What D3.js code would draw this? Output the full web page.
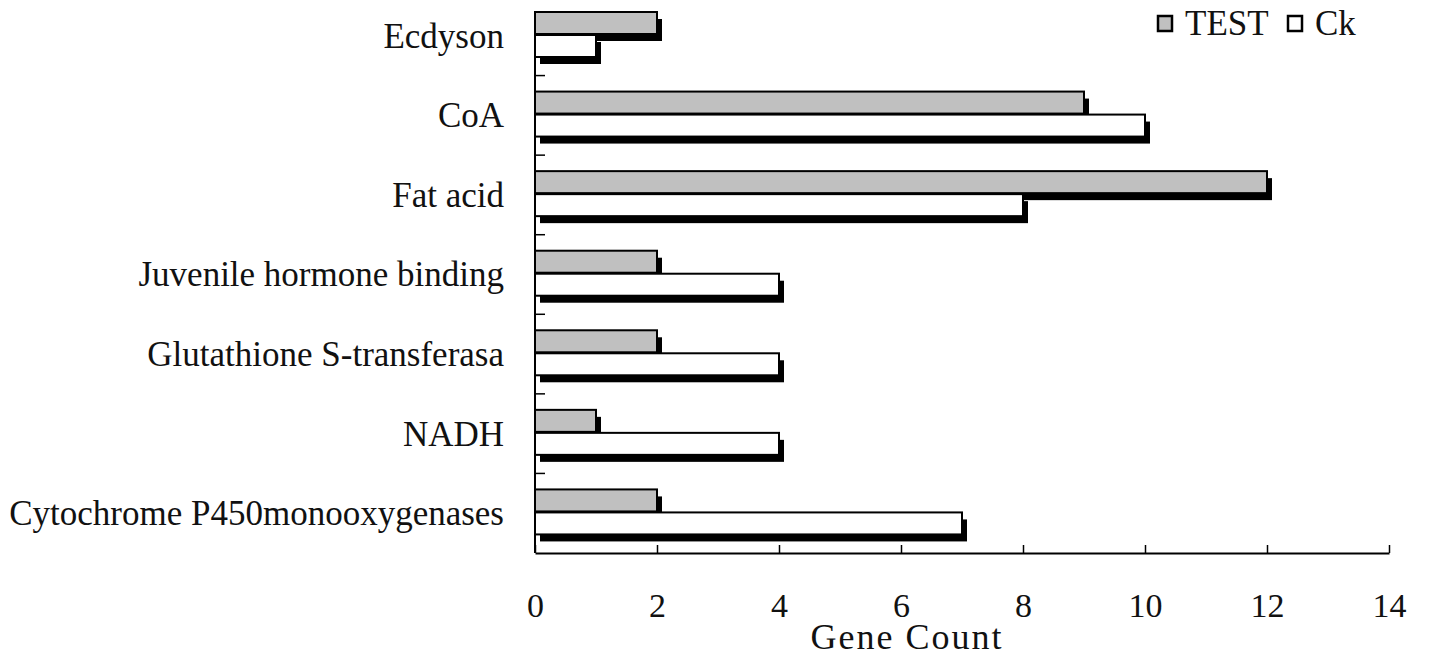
<!DOCTYPE html>
<html>
<head>
<meta charset="utf-8">
<script src="https://cdn.jsdelivr.net/npm/d3@7"></script>
<style>
body { margin: 0; background: #fff; }
text { font-family: "Liberation Serif", "Times New Roman", serif; fill: #111; }
</style>
</head>
<body>
<div id="chart"></div>
<script>
var categories = ["Ecdyson", "CoA", "Fat acid", "Juvenile hormone binding",
	"Glutathione S-transferasa", "NADH", "Cytochrome P450monooxygenases"];
var testValues = [2, 9, 12, 2, 2, 1, 2];
var ckValues = [1, 10, 8, 4, 4, 4, 7];
var seriesNames = ["TEST", "Ck"];
var xTicks = [0, 2, 4, 6, 8, 10, 12, 14];

var width = 1429, height = 653;
var plotLeft = 535, plotRight = 1389, plotTop = -4, plotBottom = 553;

var svg = d3.select("#chart").append("svg")
	.attr("width", width)
	.attr("height", height);

var x = d3.scaleLinear().domain([0, 14]).range([plotLeft, plotRight]);
var y = d3.scaleBand().domain(categories).range([plotTop, plotBottom]);
var bh = 22;

var rows = svg.selectAll(".row")
	.data(categories)
	.enter().append("g")
	.attr("class", "row")
	.attr("transform", function(d) { return "translate(0," + y(d) + ")"; });

// shadows first
rows.append("rect")
	.attr("x", x(0) + 5)
	.attr("y", 16 + 7)
	.attr("width", function(d) { return x(testValues[categories.indexOf(d)]) - x(0); })
	.attr("height", bh)
	.style("fill", "#000");
rows.append("rect")
	.attr("x", x(0) + 5)
	.attr("y", 16 + bh + 1 + 7)
	.attr("width", function(d) { return x(ckValues[categories.indexOf(d)]) - x(0); })
	.attr("height", bh)
	.style("fill", "#000");

rows.append("rect")
	.attr("x", x(0))
	.attr("y", 16)
	.attr("width", function(d) { return x(testValues[categories.indexOf(d)]) - x(0); })
	.attr("height", bh)
	.style("fill", "#c0c0c0")
	.style("stroke", "#000")
	.style("stroke-width", 2);
rows.append("rect")
	.attr("x", x(0))
	.attr("y", 16 + bh + 1)
	.attr("width", function(d) { return x(ckValues[categories.indexOf(d)]) - x(0); })
	.attr("height", bh)
	.style("fill", "#fff")
	.style("stroke", "#000")
	.style("stroke-width", 2);

// category labels
rows.append("text")
	.attr("x", 504)
	.attr("y", y.bandwidth() / 2 + 12)
	.attr("text-anchor", "end")
	.style("font-size", "35px")
	.text(function(d) { return d; });

// y axis line + ticks at band boundaries
svg.append("line")
	.attr("x1", plotLeft).attr("x2", plotLeft)
	.attr("y1", 11).attr("y2", plotBottom)
	.style("stroke", "#000").style("stroke-width", 2);
svg.selectAll(".ytick")
	.data(categories.slice(1))
	.enter().append("line")
	.attr("x1", plotLeft).attr("x2", plotLeft + 10)
	.attr("y1", function(d) { return y(d); })
	.attr("y2", function(d) { return y(d); })
	.style("stroke", "#000").style("stroke-width", 1.5);

// x axis
var xAxis = d3.axisBottom(x).tickValues(xTicks).tickSizeInner(-8).tickSizeOuter(0).tickPadding(40);
var gx = svg.append("g")
	.attr("transform", "translate(0," + plotBottom + ")")
	.call(xAxis);
gx.select(".domain").style("stroke", "#000").style("stroke-width", 2);
gx.selectAll(".tick line").style("stroke", "#000").style("stroke-width", 1.5);
gx.selectAll(".tick text")
	.style("font-family", "'Liberation Serif', 'Times New Roman', serif")
	.style("font-size", "34px")
	.style("fill", "#111");

svg.append("text")
	.attr("x", 907)
	.attr("y", 649)
	.attr("text-anchor", "middle")
	.style("font-size", "36px")
	.style("letter-spacing", "2px")
	.text("Gene Count");

// legend
var legend = svg.append("g").attr("transform", "translate(1157,15)");
var lx = [0, 130];
var lfill = ["#c0c0c0", "#fff"];
var li = legend.selectAll(".leg")
	.data(seriesNames)
	.enter().append("g")
	.attr("transform", function(d, i) { return "translate(" + lx[i] + ",0)"; });
li.append("rect")
	.attr("x", 1).attr("y", 1)
	.attr("width", 14).attr("height", 15)
	.style("fill", function(d) { return lfill[seriesNames.indexOf(d)]; })
	.style("stroke", "#000")
	.style("stroke-width", 2.5);
li.append("text")
	.attr("x", 28)
	.attr("y", 20)
	.style("font-size", "35px")
	.text(function(d) { return d; });
</script>
</body>
</html>
